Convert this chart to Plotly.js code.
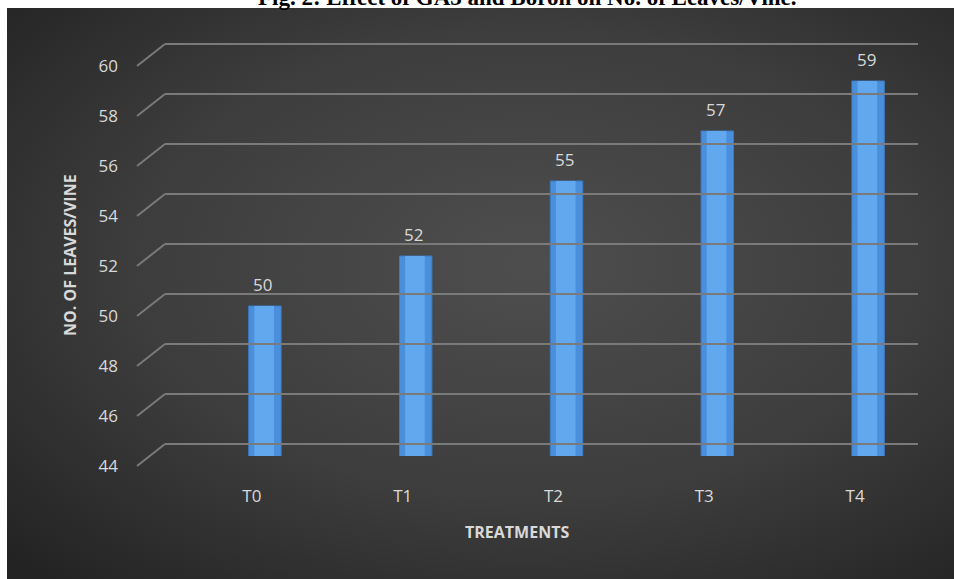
<!DOCTYPE html>
<html>
<head>
<meta charset="utf-8">
<script src="https://cdn.plot.ly/plotly-3.0.1.min.js"></script>
<style>html,body{margin:0;padding:0;background:#fff;}#chart{width:954px;height:579px;}</style>
</head>
<body>
<div id="chart"></div>
<script>
// ---- data ----
const treatments = ["T0", "T1", "T2", "T3", "T4"];
const leavesPerVine = [50, 52, 55, 57, 59];
const yTickValues = [44, 46, 48, 50, 52, 54, 56, 58, 60];
const chartTitle = "Fig. 2: Effect of GA3 and Boron on No. of Leaves/Vine.";
const xTitle = "TREATMENTS";
const yTitle = "NO. OF LEAVES/VINE";

// ---- helpers ----
const W = 954, H = 579;
const px = v => v / W;
const py = v => 1 - v / H;

const bgSvg = '<svg xmlns="http://www.w3.org/2000/svg" width="947" height="571" viewBox="0 0 947 571" preserveAspectRatio="none">' +
  '<defs><radialGradient id="g" cx="0.55" cy="0.45" r="0.75" gradientUnits="objectBoundingBox">' +
  '<stop offset="0" stop-color="#4e4e4e"/><stop offset="0.55" stop-color="#3d3d3d"/><stop offset="1" stop-color="#232323"/></radialGradient></defs>' +
  '<rect width="947" height="571" fill="url(#g)"/></svg>';
const bgUri = 'data:image/svg+xml;charset=utf-8,' + encodeURIComponent(bgSvg);

const labelColor = '#d9d9d9';
const font = 'Open Sans, Liberation Sans, sans-serif';

const pxPerUnit = 25;
// domain for a plane where value 44 sits at pixel row p44
const dom = (p44, lo, hi) => [py(p44 + (44 - lo) * pxPerUnit), py(p44 - (hi - 44) * pxPerUnit)];

const traces = [
  {
    type: 'bar', x: treatments, y: leavesPerVine, xaxis: 'x', yaxis: 'y',
    width: 0.215,
    marker: {color: '#4a8fdb', line: {color: '#3b7cc4', width: 1}},
    hoverinfo: 'x+y'
  },
  {
    type: 'bar', x: treatments, y: leavesPerVine, xaxis: 'x', yaxis: 'y',
    width: 0.13, offset: -0.07,
    marker: {color: '#62a8ef', line: {width: 0}},
    hoverinfo: 'skip'
  }
];

const shapes = yTickValues.map(v => ({
  type: 'line', xref: 'paper', yref: 'y2',
  xsizemode: 'pixel', xanchor: px(165), x0: -28, x1: 0,
  ysizemode: 'pixel', yanchor: v, y0: -22, y1: 0,
  line: {color: '#7a7a7a', width: 2},
  layer: 'below'
}));

const annotations = treatments.map((t, i) => ({
  x: t, y: leavesPerVine[i], xref: 'x', yref: 'y',
  text: String(leavesPerVine[i]), showarrow: false,
  yanchor: 'bottom', yshift: 8, xshift: -2,
  font: {family: font, size: 17, color: labelColor}
}));
annotations.push({
  xref: 'paper', yref: 'paper', x: px(527), y: py(12), xanchor: 'center', yanchor: 'bottom',
  text: '<b>' + chartTitle + '</b>', showarrow: false,
  font: {family: 'Liberation Serif, Times New Roman, serif', size: 23, color: '#000'}
});
annotations.push({
  xref: 'paper', yref: 'paper', x: px(517), y: py(532), xanchor: 'center', yanchor: 'middle',
  text: '<b>' + xTitle + '</b>', showarrow: false,
  font: {family: font, size: 16, color: labelColor}
});
annotations.push({
  xref: 'paper', yref: 'paper', x: px(70), y: py(255), xanchor: 'center', yanchor: 'middle',
  text: '<b>' + yTitle + '</b>', showarrow: false, textangle: -90,
  font: {family: font, size: 16, color: labelColor}
});

const layout = {
  width: W, height: H,
  margin: {l: 0, r: 0, t: 0, b: 0, pad: 0},
  paper_bgcolor: '#ffffff', plot_bgcolor: 'rgba(0,0,0,0)',
  showlegend: false, barmode: 'overlay',
  images: [{
    source: bgUri, xref: 'paper', yref: 'paper',
    x: px(7), y: py(8), sizex: px(947), sizey: 571 / H,
    xanchor: 'left', yanchor: 'top', sizing: 'stretch', layer: 'below'
  }],
  // bars (middle depth)
  xaxis: {domain: [px(189.5), px(943.5)], range: [-0.5, 4.5], anchor: 'y',
          showgrid: false, zeroline: false, showline: false, showticklabels: false, ticks: '',
          type: 'category', categoryarray: treatments},
  yaxis: {domain: dom(456, 44, 60), range: [44, 60], anchor: 'x',
          showgrid: false, zeroline: false, showline: false, showticklabels: false, ticks: ''},
  // back wall gridlines
  xaxis2: {domain: [px(165), px(918)], range: [0, 1], anchor: 'y2',
           showgrid: false, zeroline: false, showline: false, showticklabels: false, ticks: ''},
  yaxis2: {domain: dom(444, 42.8, 60.2), range: [42.8, 60.2], anchor: 'x2',
           tickvals: yTickValues, showgrid: true, gridcolor: '#7a7a7a', gridwidth: 2,
           zeroline: false, showline: false, showticklabels: false, ticks: ''},
  // front plane labels
  xaxis3: {domain: [px(176.5), px(930.5)], range: [-0.5, 4.5], anchor: 'free', position: py(484),
           type: 'category', categoryarray: treatments, tickvals: treatments,
           showgrid: false, zeroline: false, showline: false, ticks: '',
           tickfont: {family: font, size: 17, color: labelColor}},
  yaxis3: {domain: dom(466, 43.8, 60.2), range: [43.8, 60.2], anchor: 'free', position: px(118),
           tickvals: yTickValues, showgrid: false, zeroline: false, showline: false, ticks: '',
           tickfont: {family: font, size: 17, color: labelColor}},
  shapes: shapes,
  annotations: annotations
};

// invisible traces so the back-wall and front-plane axes render
traces.push({type: 'scatter', x: treatments, y: leavesPerVine, xaxis: 'x3', yaxis: 'y3',
             mode: 'markers', marker: {opacity: 0}, hoverinfo: 'skip'});
traces.push({type: 'scatter', x: [0, 1], y: [44, 60], xaxis: 'x2', yaxis: 'y2',
             mode: 'markers', marker: {opacity: 0}, hoverinfo: 'skip'});

Plotly.newPlot('chart', traces, layout, {displayModeBar: false, staticPlot: true});
</script>
</body>
</html>
